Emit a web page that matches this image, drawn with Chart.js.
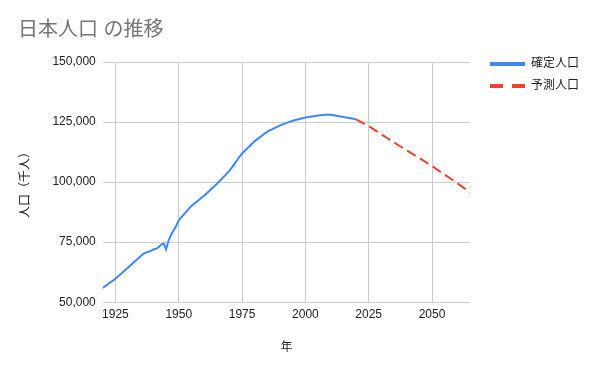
<!DOCTYPE html>
<html>
<head>
<meta charset="utf-8">
<script src="https://cdn.jsdelivr.net/npm/chart.js@4/dist/chart.umd.min.js"></script>
<style>
  html, body { margin: 0; padding: 0; background: #fff; }
</style>
</head>
<body>
<canvas id="popChart" width="600" height="371"></canvas>
<script>
// 確定人口 (thousands)
const years = [1920, 1925, 1930, 1935, 1936, 1937, 1938, 1939, 1940, 1941, 1942, 1943, 1944, 1945,
  1946, 1947, 1948, 1949, 1950, 1955, 1960, 1965, 1970, 1971, 1972, 1973, 1975, 1980, 1985,
  1990, 1995, 2000, 2005, 2008, 2010, 2015, 2020];
const confirmedPop = [55963, 59737, 64450, 69254, 70114, 70630, 71013, 71380, 71933, 72218, 72880, 73903, 74433, 71998,
  75750, 78101, 80002, 81773, 84115, 90077, 94302, 99209, 104665, 106100, 107595, 109104, 111940, 117060, 121049,
  123611, 125570, 126926, 127768, 128084, 128057, 127095, 126146];

// 予測人口 (thousands)
const projYears = [2020, 2025, 2030, 2035, 2040, 2045, 2050, 2055, 2060, 2065];
const projPop = [126146, 123300, 119900, 116500, 113200, 110000, 106700, 103100, 99500, 95800];

const xTicks = [1925, 1950, 1975, 2000, 2025, 2050];

const FONT = "'Liberation Sans', Arial, 'Noto Sans CJK JP', sans-serif";
Chart.defaults.font.family = FONT;
Chart.defaults.color = '#222';

const toPoints = (xs, ys) => xs.map((x, i) => ({x: x, y: ys[i]}));

// nudge the legend away from the plot like the original layout
const legendOffset = {
  id: 'legendOffset',
  afterLayout(chart) {
    chart.legend.left = chart.chartArea.right + 10;
    chart.legend.top = chart.chartArea.top - 14;
  }
};

new Chart(document.getElementById('popChart').getContext('2d'), {
  type: 'line',
  data: {
    datasets: [{
      label: '確定人口',
      data: toPoints(years, confirmedPop),
      borderColor: '#4285F4',
      backgroundColor: '#4285F4',
      borderWidth: 2,
      pointRadius: 0,
      tension: 0
    }, {
      label: '予測人口',
      data: toPoints(projYears, projPop),
      borderColor: '#EA4335',
      backgroundColor: '#EA4335',
      borderWidth: 2,
      borderDash: [10, 5],
      pointRadius: 0,
      tension: 0
    }]
  },
  options: {
    responsive: false,
    animation: false,
    layout: { padding: { left: 18, right: 21, top: 0, bottom: 0 } },
    plugins: {
      title: {
        display: true,
        text: '日本人口 の推移',
        align: 'start',
        color: '#757575',
        font: { size: 20, weight: 'normal' },
        padding: { top: 18, bottom: 20 }
      },
      legend: {
        position: 'right',
        align: 'start',
        fullSize: false,
        labels: {
          usePointStyle: true,
          pointStyle: 'line',
          pointStyleWidth: 35,
          padding: 10,
          color: '#222',
          font: { size: 12 },
          generateLabels(chart) {
            const items = Chart.defaults.plugins.legend.labels.generateLabels(chart);
            items.forEach((it, i) => {
              it.lineWidth = 4;
              it.lineDash = i === 1 ? [13, 9] : [];
              it.pointStyle = 'line';
            });
            return items;
          }
        }
      },
      tooltip: { enabled: false }
    },
    scales: {
      x: {
        type: 'linear',
        min: 1920,
        max: 2065,
        afterBuildTicks(axis) {
          axis.ticks = xTicks.map(v => ({value: v}));
        },
        ticks: {
          padding: 5,
          maxRotation: 0,
          font: { size: 12 },
          color: '#222',
          callback: v => String(v)
        },
        grid: { color: '#cccccc', drawTicks: false },
        border: { display: false },
        title: {
          display: true,
          text: '年',
          color: '#222',
          font: { size: 12 },
          padding: { top: 14, bottom: 16 }
        }
      },
      y: {
        min: 50000,
        max: 150000,
        ticks: {
          stepSize: 25000,
          padding: 7,
          font: { size: 12 },
          color: '#222',
          callback: v => v.toLocaleString('en-US')
        },
        grid: { color: '#cccccc', drawTicks: false },
        border: { display: false },
        title: {
          display: true,
          text: '人口（千人）',
          color: '#222',
          font: { size: 12 },
          padding: { top: 0, bottom: 13 }
        }
      }
    }
  },
  plugins: [legendOffset]
});
</script>
</body>
</html>
